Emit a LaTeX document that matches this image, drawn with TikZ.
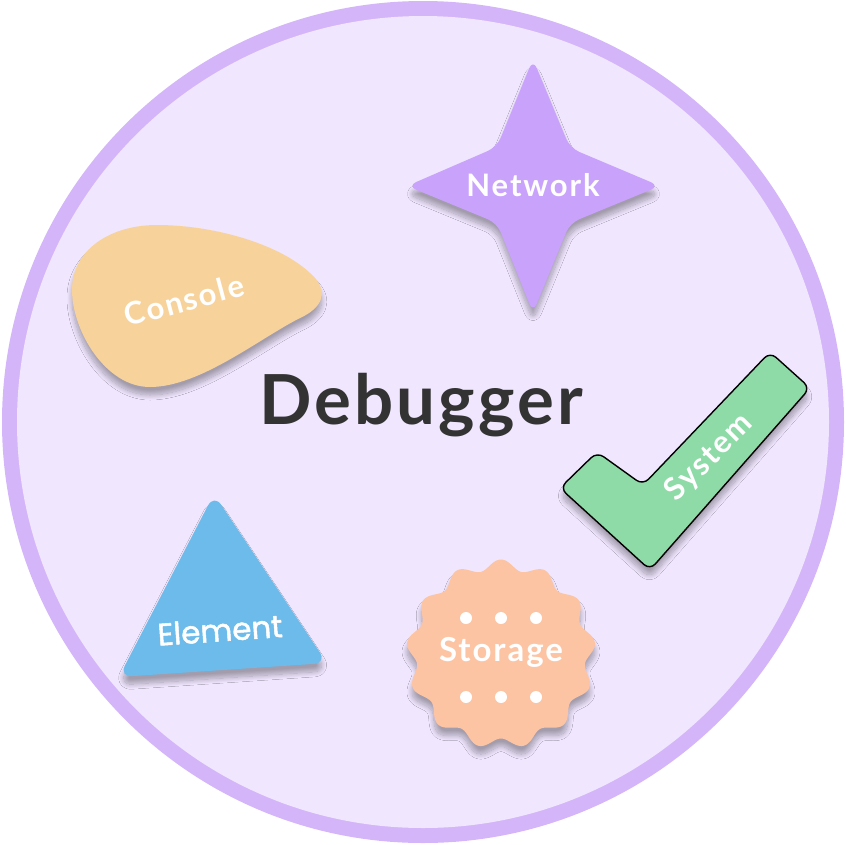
\documentclass[tikz,border=0pt]{standalone}
\usepackage{fontspec}
\setmainfont{Lato}
\newfontfamily\lblfont{Lato}[LetterSpace=6]
\newfontfamily\titlefont{Lato}[LetterSpace=4.5]
\newfontfamily\popfont{Poppins}[FakeBold=1.6]
\usetikzlibrary{shadows.blur}
\definecolor{ringc}{HTML}{D4B5F9}
\definecolor{innerc}{HTML}{F0E6FE}
\definecolor{starc}{HTML}{C9A2FC}
\definecolor{consolec}{HTML}{F7D39B}
\definecolor{checkc}{HTML}{8EDBA8}
\definecolor{trianglec}{HTML}{6CBBEA}
\definecolor{storagec}{HTML}{FDC4A3}
\definecolor{titlec}{HTML}{333333}
\tikzset{
  soft/.style={blur shadow={shadow xshift=0pt, shadow yshift=-8pt,
    shadow blur radius=5pt, shadow blur steps=12, shadow opacity=32}},
  lbl/.style={text=white, font=\lblfont\bfseries\fontsize{31}{31}\selectfont, inner sep=0pt},
}
\begin{document}
\begin{tikzpicture}[x=1pt,y=-1pt]
\useasboundingbox (0,0) rectangle (846,844);
% outer disc
\fill[ringc] (423,422) circle (421);
\fill[innerc] (423,422) circle (406);

% Network: four-pointed star
\fill[starc, soft, rounded corners=10pt]
  (533,59) -- (570,148) -- (660,186) -- (570,223) -- (533,313)
  -- (497,223) -- (407,186) -- (497,147) -- cycle;
\node[lbl] (network) at (533,185) {Network};

% Console: pebble
\fill[consolec, soft]
  (157,225) .. controls (215,225) and (285,245) .. (315,278)
  .. controls (328,293) and (322,308) .. (300,318)
  .. controls (260,338) and (200,387) .. (150,387)
  .. controls (105,387) and (72,330) .. (72,290)
  .. controls (72,250) and (110,225) .. (157,225) -- cycle;
\node[lbl, rotate=15] (console) at (184,300) {Console};

% System: check mark
\draw[fill=checkc, line width=1.4pt, soft, rounded corners=8pt, line join=round]
  (560,488) -- (597,452) -- (643,485) -- (770,352) -- (810,388)
  -- (650,570) -- cycle;
\node[lbl, rotate=45] (system) at (709,458) {System};

% Element: triangle
\fill[trianglec, soft, rounded corners=13pt]
  (214,494) -- (327,663) -- (119,677) -- cycle;
\node[text=white, inner sep=0pt, font=\popfont\fontsize{31}{31}\selectfont, rotate=4]
  (element) at (220,630) {Element};

% Storage: scalloped badge, thirteen lobes
\fill[storagec, soft] plot[domain=0:360, samples=400, smooth cycle]
  ({501+(89.5+5*cos(13*(\x-90)))*cos(\x)}, {654-(89.5+5*cos(13*(\x-90)))*sin(\x)});
\node[lbl, font=\lblfont\bfseries\fontsize{33}{33}\selectfont] (storage) at (501,652) {Storage};
\foreach \dx in {-35,0,35} {
  \fill[white] (501+\dx,618) circle (6);
  \fill[white] (501+\dx,697) circle (6);
}

% title
\node[text=titlec, font=\titlefont\bfseries\fontsize{69}{69}\selectfont, inner sep=0pt]
  (title) at (421,405) {Debugger};
\end{tikzpicture}
\end{document}
